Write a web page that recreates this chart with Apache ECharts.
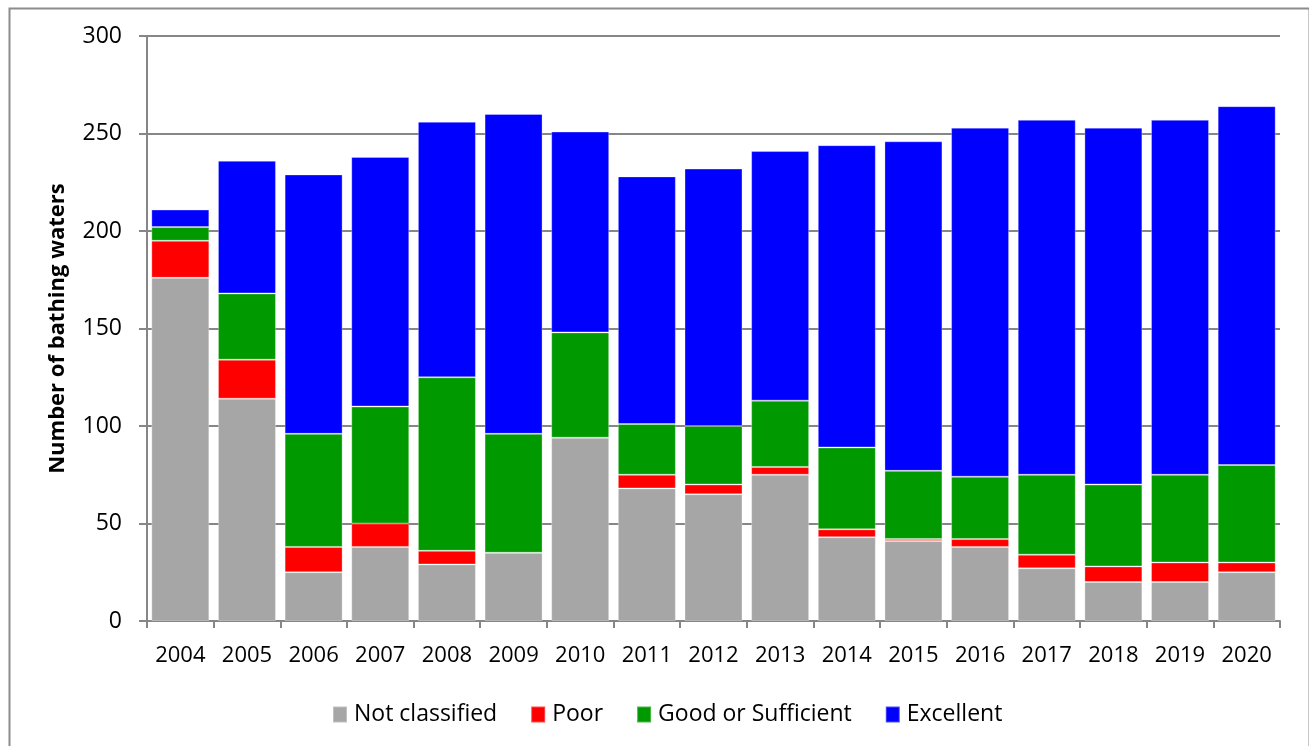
<!DOCTYPE html>
<html>
<head>
<meta charset="utf-8">
<script src="https://cdn.jsdelivr.net/npm/echarts@6/dist/echarts.min.js"></script>
<style>
html,body{margin:0;padding:0;background:#fff;}
#chart{width:1309px;height:746px;}
</style>
</head>
<body>
<div id="chart"></div>
<script>
const years = ['2004','2005','2006','2007','2008','2009','2010','2011','2012','2013','2014','2015','2016','2017','2018','2019','2020'];
const notClassified = [176,114,25,38,29,35,94,68,65,75,43,41,38,27,20,20,25];
const poor          = [19, 20, 13,12, 7, 0, 0, 7, 5, 4, 4, 1, 4, 7, 8,10, 5];
const goodSuff      = [7,  34, 58,60,89,61,54,26,30,34,42,35,32,41,42,45,50];
const excellent     = [9,  68,133,128,131,164,103,127,132,128,155,169,179,182,183,182,184];
const yTicks = [0,50,100,150,200,250,300];

const FONT = '"Open Sans", "Liberation Sans", sans-serif';
const chart = echarts.init(document.getElementById('chart'), null, {renderer:'canvas'});

function mk(name, data, color){
  return {
    name, type:'bar', stack:'total', data,
    barCategoryGap:'13%',
    itemStyle:{color, borderColor:'rgba(255,255,255,0.3)', borderWidth:1},
    emphasis:{disabled:true}
  };
}

chart.setOption({
  animation:false,
  backgroundColor:'#fff',
  graphic:[{
    type:'rect', left:7, top:6,
    shape:{x:0,y:0,width:1300,height:745},
    style:{fill:'none', stroke:'#8c8c8c', lineWidth:2},
    silent:true
  }],
  grid:{left:147, right:29, top:36, bottom:125, containLabel:false},
  legend:{
    top:698, left:327,
    itemWidth:14, itemHeight:16, itemGap:33,
    icon:'rect',
    textStyle:{fontFamily:FONT, fontSize:23, color:'#000', padding:[0,0,0,2]},
    data:['Not classified','Poor','Good or Sufficient','Excellent']
  },
  xAxis:{
    type:'category', data:years,
    axisLine:{lineStyle:{color:'#868686', width:2}},
    axisTick:{show:true, length:7, alignWithLabel:false, interval:0, lineStyle:{color:'#868686', width:2}},
    axisLabel:{fontFamily:FONT, fontSize:22, color:'#000', margin:24, interval:0}
  },
  yAxis:{
    type:'value', min:0, max:300, interval:50,
    name:'Number of bathing waters', nameLocation:'middle', nameGap:78, nameRotate:90,
    nameTextStyle:{fontFamily:FONT, fontSize:22, fontWeight:'bold', color:'#000'},
    axisLine:{show:true, lineStyle:{color:'#868686', width:2}},
    axisTick:{show:true, inside:false, length:8, lineStyle:{color:'#868686', width:2}},
    axisLabel:{fontFamily:FONT, fontSize:23, color:'#000', margin:25,
      formatter:v=> yTicks.includes(v) ? String(v) : ''},
    splitLine:{show:true, lineStyle:{color:'#868686', width:2}}
  },
  series:[
    mk('Not classified', notClassified, '#A6A6A6'),
    mk('Poor', poor, '#FF0000'),
    mk('Good or Sufficient', goodSuff, '#009900'),
    mk('Excellent', excellent, '#0000FF')
  ]
});
</script>
</body>
</html>
